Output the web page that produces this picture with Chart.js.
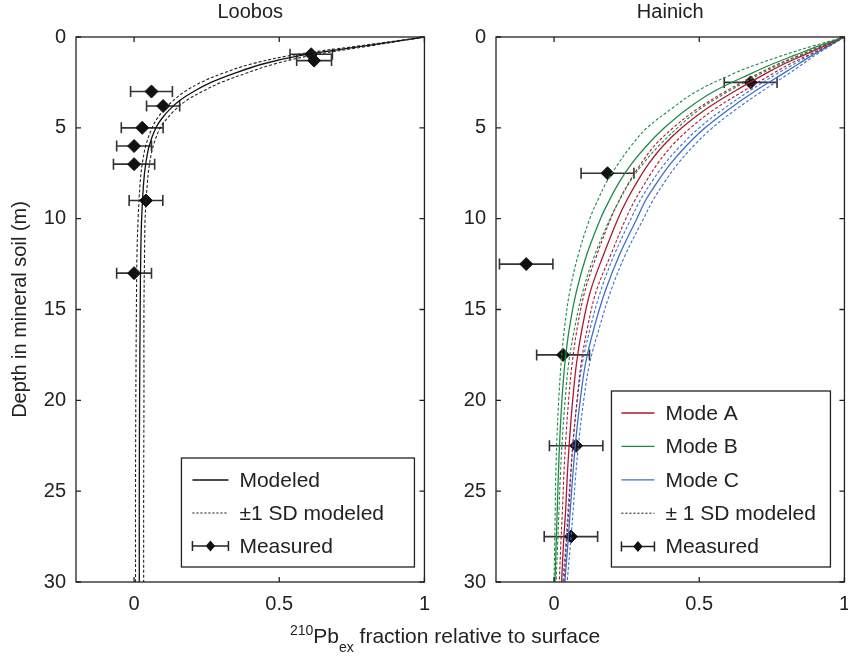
<!DOCTYPE html>
<html>
<head>
<meta charset="utf-8">
<script src="https://cdn.jsdelivr.net/npm/chart.js@4.4.1/dist/chart.umd.min.js"></script>
<style>
  html, body { margin: 0; padding: 0; background: #fff; overflow: hidden; }
  #wrap { position: relative; width: 848px; height: 657px; overflow: hidden; }
  #loobos { position: absolute; left: 0; top: 0; }
  #hainich { position: absolute; left: 440px; top: 0; }
  #xlabel { position: absolute; left: 0; width: 890px; top: 625px; text-align: center;
            font: 21px "Liberation Sans", Arial, sans-serif; line-height: 21px; color: #222; white-space: nowrap; }
  #xlabel span { position: relative; font-size: 14px; }
</style>
</head>
<body>
<div id="wrap">
  <canvas id="loobos" width="440" height="657"></canvas>
  <canvas id="hainich" width="420" height="657"></canvas>
  <div id="xlabel"><span style="top:-8px">210</span>Pb<span style="top:9px">ex</span> fraction relative to surface</div>
</div>
<script>
// ---- Loobos (profundidade em m, fração relativa à superfície)
const loobosDepth = [0, 0.5, 1, 1.5, 2, 2.5, 3, 3.5, 4, 4.5, 5, 6, 7, 8, 10, 12, 15, 20, 25, 30];
const loobosModel = [1, 0.79, 0.58, 0.44, 0.345, 0.265, 0.205, 0.157, 0.122, 0.095, 0.075, 0.052, 0.040, 0.033, 0.026, 0.023, 0.021, 0.019, 0.018, 0.018];
const loobosLow   = [1, 0.77, 0.545, 0.40, 0.305, 0.23, 0.175, 0.135, 0.103, 0.079, 0.062, 0.040, 0.028, 0.021, 0.014, 0.010, 0.008, 0.006, 0.005, 0.005];
const loobosHigh  = [1, 0.81, 0.615, 0.48, 0.385, 0.30, 0.235, 0.18, 0.142, 0.113, 0.09, 0.066, 0.053, 0.046, 0.038, 0.036, 0.034, 0.034, 0.033, 0.033];

const loobosMeasDepth = [0.95, 1.3, 3.0, 3.8, 5.0, 6.0, 7.0, 9.0, 13.0];
const loobosMeas      = [0.61, 0.62, 0.06, 0.10, 0.028, 0.0, 0.0, 0.041, 0.0];
const loobosErr       = [0.073, 0.06, 0.072, 0.057, 0.072, 0.06, 0.071, 0.058, 0.06];

// ---- Hainich
const hainichDepth = [0, 0.5, 1, 1.5, 2, 3, 4, 5, 6, 7, 8, 9, 10, 12, 14, 16, 18, 20, 22, 24, 26, 28, 30];
const modeA     = [1, 0.93, 0.86, 0.79, 0.73, 0.62, 0.52, 0.44, 0.375, 0.325, 0.285, 0.25, 0.22, 0.17, 0.125, 0.097, 0.077, 0.064, 0.054, 0.046, 0.040, 0.032, 0.026];
const modeALow  = [1, 0.92, 0.845, 0.77, 0.705, 0.59, 0.49, 0.41, 0.345, 0.298, 0.258, 0.224, 0.195, 0.147, 0.106, 0.080, 0.062, 0.050, 0.041, 0.034, 0.029, 0.023, 0.018];
const modeAHigh = [1, 0.94, 0.875, 0.81, 0.755, 0.65, 0.55, 0.47, 0.405, 0.355, 0.315, 0.278, 0.247, 0.195, 0.145, 0.115, 0.093, 0.079, 0.067, 0.058, 0.051, 0.042, 0.034];
const modeB     = [1, 0.91, 0.83, 0.75, 0.68, 0.55, 0.455, 0.38, 0.318, 0.266, 0.224, 0.19, 0.16, 0.112, 0.077, 0.053, 0.037, 0.027, 0.020, 0.015, 0.011, 0.007, 0.003];
const modeBLow  = [1, 0.89, 0.79, 0.70, 0.62, 0.49, 0.40, 0.32, 0.265, 0.22, 0.18, 0.15, 0.123, 0.083, 0.054, 0.036, 0.024, 0.016, 0.010, 0.006, 0.004, 0.002, 0.000];
const modeBHigh = [1, 0.925, 0.85, 0.78, 0.715, 0.60, 0.50, 0.425, 0.36, 0.305, 0.26, 0.225, 0.193, 0.14, 0.099, 0.071, 0.050, 0.038, 0.029, 0.022, 0.017, 0.012, 0.007];
const modeC     = [1, 0.945, 0.89, 0.84, 0.79, 0.69, 0.60, 0.52, 0.455, 0.40, 0.355, 0.315, 0.285, 0.225, 0.176, 0.138, 0.108, 0.090, 0.076, 0.065, 0.056, 0.047, 0.037];
const modeCLow  = [1, 0.94, 0.88, 0.825, 0.77, 0.67, 0.58, 0.50, 0.435, 0.38, 0.335, 0.296, 0.265, 0.207, 0.160, 0.125, 0.097, 0.080, 0.067, 0.057, 0.048, 0.040, 0.030];
const modeCHigh = [1, 0.95, 0.90, 0.855, 0.81, 0.715, 0.625, 0.545, 0.48, 0.425, 0.38, 0.34, 0.308, 0.245, 0.195, 0.156, 0.122, 0.102, 0.087, 0.075, 0.066, 0.056, 0.045];

const hainichMeasDepth = [2.5, 7.5, 12.5, 17.5, 22.5, 27.5];
const hainichMeas      = [0.677, 0.184, -0.096, 0.031, 0.076, 0.058];
const hainichErr       = [0.091, 0.091, 0.092, 0.091, 0.092, 0.092];

const xTicks = [0, 0.5, 1];
const yTicks = [0, 5, 10, 15, 20, 25, 30];

const fam = '"Liberation Sans", Arial, Helvetica, sans-serif';
const ink = '#222';
const vermelho = '#a8192e', verde = '#1e8a46', azul = '#3c6ec8';

function pts(xs, ds) { return ds.map((d, i) => ({ x: xs[i], y: d })); }

function curva(xs, ds, cor, tracejado) {
  return {
    data: pts(xs, ds), showLine: true, borderColor: cor, borderWidth: tracejado ? 1.1 : 1.3,
    borderDash: tracejado ? [3, 2] : [], pointRadius: 0, tension: 0.35, fill: false
  };
}

function medidos(xs, ds) {
  return {
    data: pts(xs, ds), showLine: false, pointStyle: 'rectRot', pointRadius: 6.5,
    pointBackgroundColor: '#111', pointBorderColor: '#111', pointBorderWidth: 1
  };
}

// barras de erro horizontais, desenhadas pelas escalas do chart
const barrasErro = {
  id: 'barrasErro',
  beforeDatasetsDraw(chart, args, o) {
    const { ctx, scales: { x, y } } = chart;
    ctx.save();
    ctx.strokeStyle = '#333';
    ctx.lineWidth = 1.6;
    o.xs.forEach((v, i) => {
      const py = y.getPixelForValue(o.ds[i]);
      const a = x.getPixelForValue(v - o.errs[i]);
      const b = x.getPixelForValue(v + o.errs[i]);
      ctx.beginPath();
      ctx.moveTo(a, py); ctx.lineTo(b, py);
      ctx.moveTo(a, py - 5.5); ctx.lineTo(a, py + 5.5);
      ctx.moveTo(b, py - 5.5); ctx.lineTo(b, py + 5.5);
      ctx.stroke();
    });
    ctx.restore();
  }
};

// moldura estilo matlab com ticks para dentro + legenda
const moldura = {
  id: 'moldura',
  afterDraw(chart, args, o) {
    const { ctx, chartArea: a, scales: { x, y } } = chart;
    ctx.save();
    ctx.strokeStyle = ink;
    ctx.lineWidth = 1.3;
    ctx.strokeRect(a.left, a.top, a.width, a.height);
    ctx.beginPath();
    xTicks.forEach(v => {
      const px = x.getPixelForValue(v);
      ctx.moveTo(px, a.bottom); ctx.lineTo(px, a.bottom - 5);
      ctx.moveTo(px, a.top); ctx.lineTo(px, a.top + 5);
    });
    yTicks.forEach(v => {
      const py = y.getPixelForValue(v);
      ctx.moveTo(a.left, py); ctx.lineTo(a.left + 5, py);
      ctx.moveTo(a.right, py); ctx.lineTo(a.right - 5, py);
    });
    ctx.stroke();

    // legenda
    const L = o.legenda;
    const bx = a.right - L.dx - L.w, by = a.bottom - L.dy - L.h;
    ctx.fillStyle = '#fff';
    ctx.fillRect(bx, by, L.w, L.h);
    ctx.strokeRect(bx, by, L.w, L.h);
    ctx.font = '21px ' + fam;
    ctx.textBaseline = 'middle';
    L.itens.forEach((it, i) => {
      const cy = by + L.top + i * L.passo;
      const x0 = bx + L.s0, x1 = bx + L.s1;
      ctx.save();
      ctx.strokeStyle = it.cor;
      if (it.tipo === 'linha' || it.tipo === 'tracejado') {
        ctx.lineWidth = it.tipo === 'linha' ? 1.3 : 1;
        ctx.setLineDash(it.tipo === 'linha' ? [] : [2, 2]);
        ctx.beginPath(); ctx.moveTo(x0, cy); ctx.lineTo(x1, cy); ctx.stroke();
      } else {
        ctx.lineWidth = 1.5;
        ctx.beginPath();
        ctx.moveTo(x0, cy); ctx.lineTo(x1, cy);
        ctx.moveTo(x0, cy - 5); ctx.lineTo(x0, cy + 5);
        ctx.moveTo(x1, cy - 5); ctx.lineTo(x1, cy + 5);
        ctx.stroke();
        const m = (x0 + x1) / 2, r = 5.5;
        ctx.fillStyle = '#111';
        ctx.beginPath();
        ctx.moveTo(m, cy - r); ctx.lineTo(m + r * 0.85, cy); ctx.lineTo(m, cy + r); ctx.lineTo(m - r * 0.85, cy);
        ctx.closePath(); ctx.fill();
      }
      ctx.restore();
      ctx.fillStyle = ink;
      ctx.fillText(it.texto, bx + L.tx, cy + 1);
    });
    ctx.restore();
  }
};

function opcoes(titulo, larguraY, tituloY, padRight, errData, legenda) {
  return {
    responsive: false,
    animation: false,
    layout: { padding: { left: 0, right: padRight, top: 0, bottom: 0 } },
    scales: {
      x: {
        type: 'linear', min: -0.2, max: 1,
        afterBuildTicks: s => { s.ticks = xTicks.map(v => ({ value: v })); },
        afterFit: s => { s.height = 75; },
        grid: { display: false, drawTicks: false },
        border: { display: false },
        ticks: { color: ink, font: { family: fam, size: 20 }, padding: 10, callback: v => String(v), maxRotation: 0, autoSkip: false }
      },
      y: {
        type: 'linear', min: 0, max: 30, reverse: true,
        afterBuildTicks: s => { s.ticks = yTicks.map(v => ({ value: v })); },
        afterFit: s => { s.width = larguraY; },
        grid: { display: false, drawTicks: false },
        border: { display: false },
        ticks: { color: ink, font: { family: fam, size: 20 }, padding: 10 },
        title: tituloY ? { display: true, text: tituloY, color: ink, font: { family: fam, size: 20 }, padding: { top: 8, bottom: 0 } } : { display: false }
      }
    },
    plugins: {
      legend: { display: false },
      tooltip: { enabled: false },
      title: { display: true, text: titulo, color: ink, fullSize: false, font: { family: fam, size: 20, weight: 'normal' }, padding: { top: 0, bottom: 13 } },
      barrasErro: errData,
      moldura: { legenda: legenda }
    }
  };
}

new Chart(document.getElementById('loobos'), {
  type: 'scatter',
  data: {
    datasets: [
      curva(loobosLow, loobosDepth, '#222', true),
      curva(loobosHigh, loobosDepth, '#222', true),
      curva(loobosModel, loobosDepth, '#111', false),
      medidos(loobosMeas, loobosMeasDepth)
    ]
  },
  options: opcoes('Loobos', 76, 'Depth in mineral soil (m)', 13,
    { xs: loobosMeas, ds: loobosMeasDepth, errs: loobosErr },
    { w: 233, h: 109, dx: 10, dy: 15, top: 22, passo: 33, s0: 11, s1: 47, tx: 58,
      itens: [
        { tipo: 'linha', cor: '#111', texto: 'Modeled' },
        { tipo: 'tracejado', cor: '#111', texto: '\u00b11 SD modeled' },
        { tipo: 'erro', cor: '#222', texto: 'Measured' }
      ] }),
  plugins: [barrasErro, moldura]
});

new Chart(document.getElementById('hainich'), {
  type: 'scatter',
  data: {
    datasets: [
      curva(modeBLow, hainichDepth, verde, true),
      curva(modeBHigh, hainichDepth, verde, true),
      curva(modeALow, hainichDepth, vermelho, true),
      curva(modeAHigh, hainichDepth, vermelho, true),
      curva(modeCLow, hainichDepth, azul, true),
      curva(modeCHigh, hainichDepth, azul, true),
      curva(modeA, hainichDepth, vermelho, false),
      curva(modeB, hainichDepth, verde, false),
      curva(modeC, hainichDepth, azul, false),
      medidos(hainichMeas, hainichMeasDepth)
    ]
  },
  options: opcoes('Hainich', 56, null, 11,
    { xs: hainichMeas, ds: hainichMeasDepth, errs: hainichErr },
    { w: 219, h: 176, dx: 14, dy: 15, top: 22, passo: 33.4, s0: 10, s1: 43, tx: 54,
      itens: [
        { tipo: 'linha', cor: vermelho, texto: 'Mode A' },
        { tipo: 'linha', cor: verde, texto: 'Mode B' },
        { tipo: 'linha', cor: azul, texto: 'Mode C' },
        { tipo: 'tracejado', cor: '#111', texto: '\u00b1 1 SD modeled' },
        { tipo: 'erro', cor: '#222', texto: 'Measured' }
      ] }),
  plugins: [barrasErro, moldura]
});
</script>
</body>
</html>
